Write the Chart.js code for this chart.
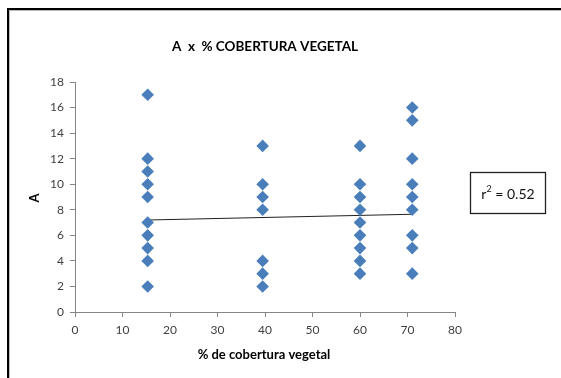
<!DOCTYPE html>
<html>
<head>
<meta charset="utf-8">
<script src="https://cdn.jsdelivr.net/npm/chart.js@4/dist/chart.umd.min.js"></script>
<style>
  html, body { margin: 0; padding: 0; background: #fff; }
  #wrap { width: 561px; height: 378px; position: relative; }
</style>
</head>
<body>
<div id="wrap"><canvas id="c" width="561" height="378"></canvas></div>
<script>
// % de cobertura vegetal per sampling site
const coverPct = [15.3, 39.5, 60, 71];
// A values observed at each cover level
const valuesAt15 = [17, 12, 11, 10, 9, 7, 6, 5, 4, 2];
const valuesAt39 = [13, 10, 9, 8, 4, 3, 2];
const valuesAt60 = [13, 10, 9, 8, 7, 6, 5, 4, 3];
const valuesAt71 = [16, 15, 12, 10, 9, 8, 6, 5, 3];
// linear trend endpoints (x, y)
const trendX = [15.3, 71];
const trendY = [7.2, 7.65];
const rSquared = '0.52';
const xTicks = [0, 10, 20, 30, 40, 50, 60, 70, 80];
const yTicks = [0, 2, 4, 6, 8, 10, 12, 14, 16, 18];

const groups = [valuesAt15, valuesAt39, valuesAt60, valuesAt71];
const points = [];
groups.forEach((vals, i) => vals.forEach(v => points.push({ x: coverPct[i], y: v })));
const trend = trendX.map((x, i) => ({ x, y: trendY[i] }));

const FONT = 'Lato, "Open Sans", "Liberation Sans", sans-serif';

const decor = {
  id: 'decor',
  beforeDraw(chart) {
    const ctx = chart.ctx;
    ctx.save();
    ctx.fillStyle = '#fff';
    ctx.fillRect(0, 0, chart.width, chart.height);
    // outer frame
    ctx.strokeStyle = '#bbb';
    ctx.lineWidth = 1;
    ctx.strokeRect(9.5, 10.5, 600, 400);
    ctx.strokeStyle = '#000';
    ctx.lineWidth = 2;
    ctx.strokeRect(8, 9, 600, 400);
    ctx.restore();
  },
  afterDraw(chart) {
    const ctx = chart.ctx;
    ctx.save();
    ctx.fillStyle = '#000';
    ctx.textBaseline = 'middle';
    ctx.textAlign = 'center';
    // title
    ctx.font = 'bold 13.5px ' + FONT;
    ctx.fillText('A  x  % COBERTURA VEGETAL', 265, 47);
    // x axis title
    ctx.font = 'bold 13px ' + FONT;
    ctx.fillText('% de cobertura vegetal', 264, 355);
    // y axis title
    ctx.translate(35, 198);
    ctx.rotate(-Math.PI / 2);
    ctx.font = 'bold 13px ' + FONT;
    ctx.fillText('A', 0, 0);
    ctx.restore();

    // r² box
    ctx.save();
    ctx.fillStyle = '#fff';
    ctx.fillRect(470, 172, 75, 41);
    ctx.strokeStyle = '#222';
    ctx.lineWidth = 1.3;
    ctx.strokeRect(470.5, 172.5, 75, 41);
    ctx.fillStyle = '#111';
    ctx.textBaseline = 'middle';
    ctx.textAlign = 'left';
    ctx.font = '14px ' + FONT;
    const base = 'r';
    const rest = ' = ' + rSquared;
    const wR = ctx.measureText(base).width;
    ctx.font = '9px ' + FONT;
    const wSup = ctx.measureText('2').width;
    ctx.font = '14px ' + FONT;
    const wRest = ctx.measureText(rest).width;
    const x0 = 508 - (wR + wSup + wRest) / 2;
    ctx.fillText(base, x0, 194);
    ctx.font = '9px ' + FONT;
    ctx.fillText('2', x0 + wR, 189);
    ctx.font = '14px ' + FONT;
    ctx.fillText(rest, x0 + wR + wSup, 194);
    ctx.restore();
  }
};

new Chart(document.getElementById('c'), {
  type: 'scatter',
  data: {
    datasets: [
      {
        label: 'A',
        data: points,
        pointStyle: 'rectRot',
        pointRadius: 6.3,
        pointHoverRadius: 6.3,
        backgroundColor: '#4A7EBB',
        borderColor: '#4A7EBB',
        borderWidth: 0
      },
      {
        label: 'Linear (A)',
        type: 'line',
        data: trend,
        borderColor: '#222',
        borderWidth: 1,
        pointRadius: 0,
        fill: false
      }
    ]
  },
  plugins: [decor],
  options: {
    responsive: false,
    animation: false,
    events: [],
    layout: { padding: { left: 0, top: 82, right: 106, bottom: 0 } },
    plugins: { legend: { display: false }, title: { display: false }, tooltip: { enabled: false } },
    scales: {
      x: {
        type: 'linear',
        min: 0, max: 80,
        afterFit(s) { s.height = 66; },
        afterBuildTicks(s) { s.ticks = xTicks.map(v => ({ value: v })); },
        grid: { drawOnChartArea: false, drawTicks: true, tickLength: 5, tickColor: '#868686' },
        border: { color: '#868686', width: 1 },
        ticks: { color: '#404040', font: { family: FONT, size: 12 }, padding: 6, maxRotation: 0 }
      },
      y: {
        min: 0, max: 18,
        afterFit(s) { s.width = 75; },
        afterBuildTicks(s) { s.ticks = yTicks.map(v => ({ value: v })); },
        grid: { drawOnChartArea: false, drawTicks: true, tickLength: 5, tickColor: '#868686' },
        border: { color: '#868686', width: 1 },
        ticks: { color: '#404040', font: { family: FONT, size: 12 }, padding: 6 }
      }
    }
  }
});
</script>
</body>
</html>
